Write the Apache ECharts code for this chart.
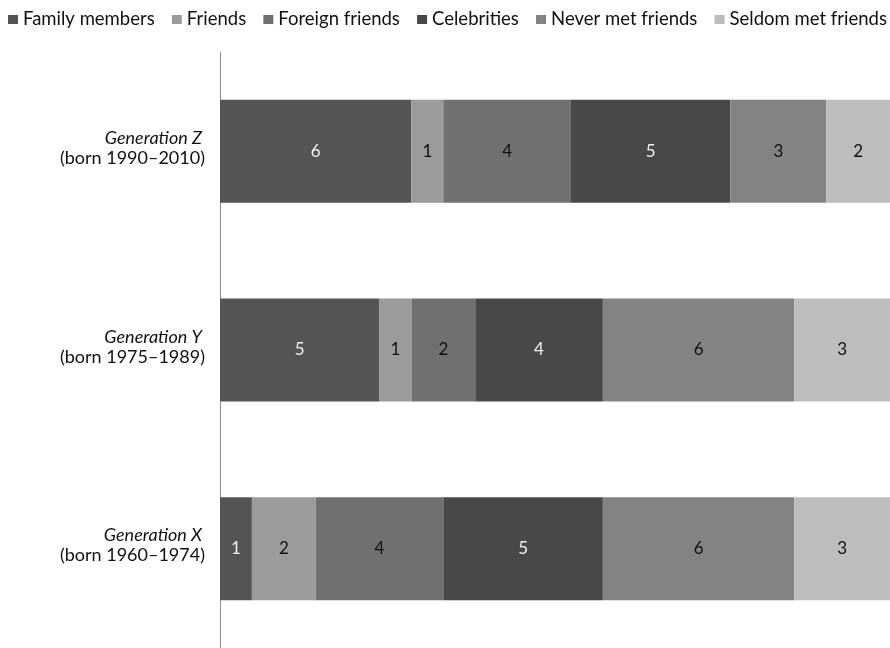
<!DOCTYPE html>
<html>
<head>
<meta charset="utf-8">
<script src="https://cdn.jsdelivr.net/npm/echarts@6/dist/echarts.min.js"></script>
<style>
  html, body { margin: 0; padding: 0; background: #fff; }
  #chart { width: 890px; height: 648px; }
</style>
</head>
<body>
<div id="chart"></div>
<script>
// Generations, top to bottom
const generations = ['Generation Z', 'Generation Y', 'Generation X'];
const bornRanges = ['(born 1990\u20132010)', '(born 1975\u20131989)', '(born 1960\u20131974)'];

// Counts per group, in generation order
const familyMembers = [6, 5, 1];
const friends = [1, 1, 2];
const foreignFriends = [4, 2, 4];
const celebrities = [5, 4, 5];
const neverMetFriends = [3, 6, 6];
const seldomMetFriends = [2, 3, 3];

const seriesDefs = [
  { name: 'Family members', data: familyMembers, color: '#545453', label: '#eeeeee' },
  { name: 'Friends', data: friends, color: '#9b9b9b', label: '#111' },
  { name: 'Foreign friends', data: foreignFriends, color: '#707070', label: '#111' },
  { name: 'Celebrities', data: celebrities, color: '#474847', label: '#eeeeee' },
  { name: 'Never met friends', data: neverMetFriends, color: '#838383', label: '#111' },
  { name: 'Seldom met friends', data: seldomMetFriends, color: '#bdbdbd', label: '#111' }
];

const FONT = 'Lato';

const chart = echarts.init(document.getElementById('chart'), null, { renderer: 'canvas' });

chart.setOption({
  animation: false,
  textStyle: { fontFamily: FONT },
  legend: {
    top: 10,
    left: 8,
    width: 900,
    padding: 0,
    itemWidth: 10,
    itemHeight: 9,
    itemGap: 17.2,
    icon: 'rect',
    textStyle: { fontFamily: FONT, fontSize: 18.5, color: '#111' },
    data: seriesDefs.map(s => s.name)
  },
  grid: { left: 220, right: 0, top: 52, height: 599, containLabel: false },
  xAxis: {
    type: 'value',
    min: 0,
    max: 21,
    show: false
  },
  yAxis: {
    type: 'category',
    inverse: true,
    data: generations,
    axisLine: { show: true, lineStyle: { color: '#8c8c8c', width: 1 } },
    axisTick: { show: false },
    axisLabel: {
      margin: 15,
      align: 'right',
      padding: [0, 0, 6, 0],
      formatter: (value, idx) => '{g|' + value + '}\n{b|' + bornRanges[idx] + '}',
      rich: {
        g: { fontFamily: FONT, fontStyle: 'italic', fontSize: 18, color: '#111', lineHeight: 20, padding: [0, 3, 0, 0], align: 'right' },
        b: { fontFamily: FONT, fontSize: 18, color: '#111', lineHeight: 20, align: 'right' }
      }
    }
  },
  series: seriesDefs.map(s => ({
    name: s.name,
    type: 'bar',
    stack: 'total',
    barWidth: 103,
    data: s.data,
    itemStyle: { color: s.color },
    label: {
      show: true,
      position: 'inside',
      color: s.label,
      fontFamily: FONT,
      fontSize: 17
    }
  }))
});
</script>
</body>
</html>
